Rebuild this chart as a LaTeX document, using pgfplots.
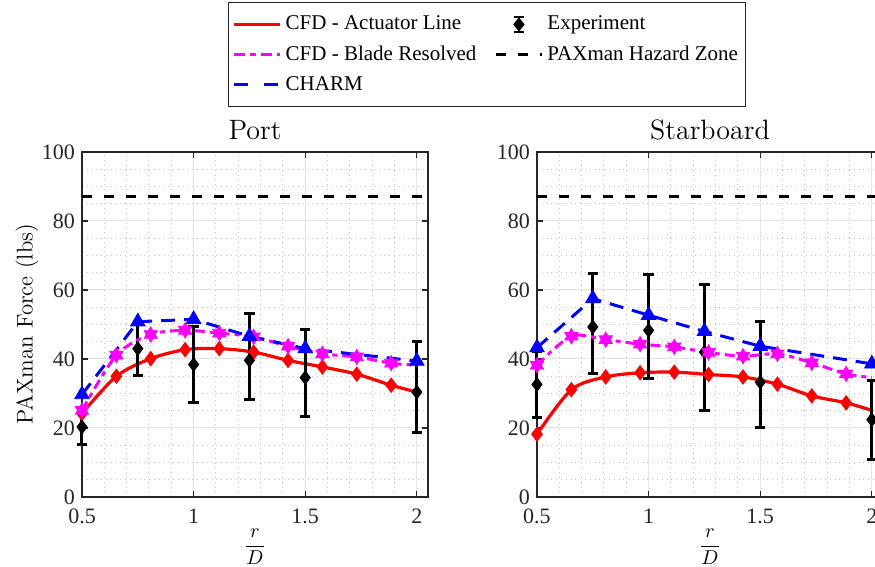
\documentclass[border=0pt]{standalone}
\usepackage{pgfplots}
\pgfplotsset{compat=1.18}
\usepackage{fontspec}
\newfontfamily\timesf{Liberation Serif}

\pgfdeclareplotmark{hexagram}{%
 \pgfpathmoveto{\pgfqpointpolar{90}{\pgfplotmarksize}}%
 \pgfpathlineto{\pgfqpointpolar{210}{\pgfplotmarksize}}%
 \pgfpathlineto{\pgfqpointpolar{330}{\pgfplotmarksize}}%
 \pgfpathclose
 \pgfpathmoveto{\pgfqpointpolar{270}{\pgfplotmarksize}}%
 \pgfpathlineto{\pgfqpointpolar{30}{\pgfplotmarksize}}%
 \pgfpathlineto{\pgfqpointpolar{150}{\pgfplotmarksize}}%
 \pgfpathclose
 \pgfusepathqfillstroke}

\definecolor{axgray}{gray}{0.15}
\definecolor{mred}{rgb}{1,0,0}
\definecolor{mmag}{rgb}{1,0,1}
\definecolor{mblue}{rgb}{0,0,1}

\pgfplotsset{
 myax/.style={
  scale only axis, width=173pt, height=172.5pt,
  xmin=0.5, xmax=2.05, ymin=0, ymax=100,
  clip=false,
  xtick={0.5,1,1.5,2}, xticklabels={0.5,1,1.5,2},
  ytick={0,20,40,60,80,100}, yticklabels={0,20,40,60,80,100},
  minor xtick={0.6,0.7,0.8,0.9,1.1,1.2,1.3,1.4,1.6,1.7,1.8,1.9,2.0},
  minor ytick={5,10,15,25,30,35,45,50,55,65,70,75,85,90,95},
  grid=both,
  major grid style={gray!22, line width=0.5pt},
  minor grid style={gray!45, dotted, line width=0.5pt},
  tick align=inside, major tick length=3pt, minor tick length=0pt,
  axis line style={axgray, line width=0.6pt},
  major tick style={axgray, line width=0.6pt},
  tick label style={font=\timesf\fontsize{11}{13}\selectfont, color=axgray},
  xticklabel style={yshift=-2.5pt},
  title style={at={(axis description cs:0.5,1)}, anchor=base, yshift=0pt, inner sep=0pt, font=\fontsize{14}{16}\selectfont},
  xlabel={$\displaystyle\frac{r}{D}$},
  xlabel style={at={(axis description cs:0.5,0)}, anchor=center, yshift=-25pt, inner sep=0pt, font=\fontsize{10}{12}\selectfont},
 },
 alstyle/.style={mred, line width=1.6pt, smooth, mark=diamond*, mark size=3.6pt, mark indices={1,...,10}, mark options={solid, fill=mred, line width=0.4pt}},
 brstyle/.style={mmag, line width=1.5pt, smooth, dash pattern=on 5pt off 2.5pt on 2.5pt off 2.5pt, mark=hexagram, mark size=3.8pt, mark indices={1,...,10}, mark options={solid, fill=mmag, line width=0.4pt}},
 chstyle/.style={mblue, line width=1.5pt, dash pattern=on 7pt off 4.5pt, mark=triangle*, mark size=4.2pt, mark options={solid, fill=mblue, line width=0.4pt}},
 exstyle/.style={black, only marks, mark=diamond*, mark size=3.4pt, mark options={fill=black, line width=0.4pt},
   error bars/y dir=both, error bars/y explicit, error bars/error bar style={line width=1.5pt, black},
   error bars/error mark options={rotate=90, mark size=2.6pt, line width=1.5pt, black}},
 hzstyle/.style={black, line width=1.5pt, dash pattern=on 5pt off 6pt},
}

\begin{document}
\begin{tikzpicture}
\begin{axis}[myax, at={(0pt,0pt)}, anchor=south west,
  title={Port},
  ylabel={PAXman Force (lbs)},
  ylabel style={at={(axis description cs:-0.159,0.5)}, anchor=center, inner sep=0pt, font=\fontsize{11.4}{13}\selectfont},
  legend columns=2,
  legend cell align=left,
  legend style={at={(axis description cs:0.422,1.435)}, anchor=north west,
    draw=axgray, line width=0.5pt, fill=white, font=\timesf\fontsize{10.5}{12.5}\selectfont,
    inner xsep=2pt, inner ysep=4.8pt, row sep=2.4pt,
    /tikz/every even column/.append style={column sep=7pt}},
]
\addlegendimage{legend image code/.code={\draw[mred, line width=1.6pt] (0pt,0pt) -- (23pt,0pt);}}
\addlegendentry{CFD - Actuator Line}
\addlegendimage{legend image code/.code={
  \draw[black, line width=1.3pt] (11.5pt,-3.7pt) -- (11.5pt,3.7pt);
  \draw[black, line width=1.3pt] (9pt,-3.7pt) -- (14pt,-3.7pt);
  \draw[black, line width=1.3pt] (9pt,3.7pt) -- (14pt,3.7pt);
  \fill[black] (11.5pt,3.2pt) -- (14pt,0pt) -- (11.5pt,-3.2pt) -- (9pt,0pt) -- cycle;}}
\addlegendentry{Experiment}
\addlegendimage{legend image code/.code={\draw[mmag, line width=1.5pt, dash pattern=on 5.5pt off 2.5pt on 3pt off 2.5pt] (0pt,0pt) -- (23pt,0pt);}}
\addlegendentry{CFD - Blade Resolved}
\addlegendimage{legend image code/.code={\draw[black, line width=1.5pt, dash pattern=on 5pt off 6pt] (0pt,0pt) -- (23pt,0pt);}}
\addlegendentry{PAXman Hazard Zone}
\addlegendimage{legend image code/.code={\draw[mblue, line width=1.5pt, dash pattern=on 7pt off 8pt] (0pt,0pt) -- (23pt,0pt);}}
\addlegendentry{CHARM}

\addplot[forget plot, alstyle] table {
x y
0.5 24.2
0.654 35.0
0.808 40.1
0.962 42.7
1.115 43.0
1.269 42.0
1.423 39.6
1.577 37.7
1.731 35.6
1.885 32.4
2.0 30.4
};
\addplot[forget plot, exstyle] table[y error plus=ep, y error minus=em] {
x y ep em
0.5 20.3 5.0 5.0
0.75 43.0 7.7 7.7
1.0 38.4 11.1 11.1
1.25 39.6 13.7 11.4
1.5 34.6 13.9 11.2
2.0 30.4 14.8 11.8
};
\addplot[forget plot, brstyle] table {
x y
0.5 25.1
0.654 41.1
0.808 47.1
0.962 48.3
1.115 47.5
1.269 46.4
1.423 43.7
1.577 41.5
1.731 40.6
1.885 38.8
2.0 38.2
};
\addplot[forget plot, chstyle] table {
x y
0.5 29.7
0.75 50.8
1.0 51.5
1.25 46.6
1.5 43.0
2.0 39.4
};
\addplot[forget plot, hzstyle] table {
x y
0.5 87
2.05 87
};
\end{axis}

\begin{axis}[myax, at={(227.5pt,0pt)}, anchor=south west,
  title={Starboard},
]
\addplot[alstyle] table {
x y
0.5 18.2
0.654 31.1
0.808 34.8
0.962 36.0
1.115 36.2
1.269 35.5
1.423 34.8
1.577 32.7
1.731 29.3
1.885 27.3
2.0 25.1
};
\addplot[exstyle] table[y error plus=ep, y error minus=em] {
x y ep em
0.5 32.6 9.6 9.6
0.75 49.3 15.4 13.6
1.0 48.3 16.1 14.0
1.25 42.0 19.6 16.9
1.5 33.3 17.6 13.2
2.0 22.4 11.5 11.5
};
\addplot[brstyle] table {
x y
0.5 38.2
0.654 46.6
0.808 45.6
0.962 44.3
1.115 43.5
1.269 41.9
1.423 40.8
1.577 41.5
1.731 38.9
1.885 35.7
2.0 34.6
};
\addplot[chstyle] table {
x y
0.5 43.3
0.75 57.5
1.0 52.7
1.25 48.0
1.5 43.7
2.0 38.6
};
\addplot[hzstyle] table {
x y
0.5 87
2.05 87
};
\end{axis}
\pgfresetboundingbox
\useasboundingbox (-41pt,-35pt) rectangle (396.5pt,248.5pt);
\end{tikzpicture}
\end{document}
